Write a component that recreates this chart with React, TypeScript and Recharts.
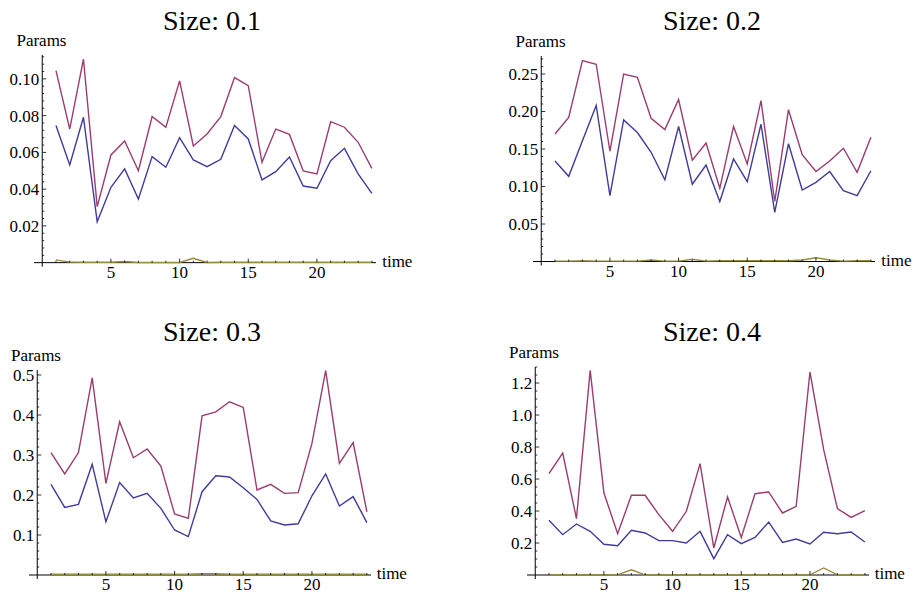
import React from 'react';
import { LineChart, Line, XAxis, YAxis, ReferenceLine } from 'recharts';

// ---------- data ----------
const times = [1, 2, 3, 4, 5, 6, 7, 8, 9, 10, 11, 12, 13, 14, 15, 16, 17, 18, 19, 20, 21, 22, 23, 24];
const xMajorTicks = [5, 10, 15, 20];

// Size 0.1
const blue1 = [0.0746, 0.0532, 0.0791, 0.0223, 0.041, 0.051, 0.0346, 0.0577, 0.0519, 0.068, 0.0559, 0.0522, 0.0562, 0.0746, 0.0673, 0.045, 0.0495, 0.0575, 0.0417, 0.0405, 0.0555, 0.0622, 0.0483, 0.0377];
const purple1 = [0.1045, 0.0727, 0.1107, 0.0305, 0.0586, 0.0662, 0.05, 0.0795, 0.0737, 0.0989, 0.0635, 0.07, 0.0795, 0.1007, 0.0963, 0.0546, 0.0727, 0.0698, 0.0499, 0.0483, 0.0767, 0.0737, 0.0655, 0.0513];
const olive1 = [0.0015, 0.0003, 0.0002, 0.0002, 0.0002, 0.0006, 0.0001, 0.0001, 0.0001, 0.0001, 0.0024, 0.0001, 0.0002, 0.0002, 0.0002, 0.0002, 0.0002, 0.0003, 0.0002, 0.0002, 0.0002, 0.0002, 0.0003, 0.0002];
const yMajor1 = [0.02, 0.04, 0.06, 0.08, 0.1];
const yLabels1 = ['0.02', '0.04', '0.06', '0.08', '0.10'];

// Size 0.2
const blue2 = [0.134, 0.1136, 0.161, 0.208, 0.0878, 0.1887, 0.172, 0.1456, 0.109, 0.18, 0.103, 0.1287, 0.08, 0.1367, 0.1064, 0.183, 0.0656, 0.157, 0.0953, 0.1056, 0.12, 0.0944, 0.0878, 0.121];
const purple2 = [0.17, 0.192, 0.268, 0.263, 0.147, 0.25, 0.2456, 0.191, 0.176, 0.216, 0.135, 0.158, 0.0976, 0.18, 0.13, 0.2144, 0.08, 0.2024, 0.1424, 0.12, 0.134, 0.151, 0.119, 0.1656];
const olive2 = [0.0005, 0.0005, 0.001, 0.0005, 0.0005, 0.0005, 0.0005, 0.002, 0.0005, 0.0005, 0.003, 0.0005, 0.001, 0.001, 0.001, 0.001, 0.001, 0.001, 0.002, 0.005, 0.002, 0.0005, 0.001, 0.001];
const yMajor2 = [0.05, 0.1, 0.15, 0.2, 0.25];
const yLabels2 = ['0.05', '0.10', '0.15', '0.20', '0.25'];

// Size 0.3
const blue3 = [0.2267, 0.169, 0.1767, 0.2767, 0.133, 0.231, 0.1925, 0.204, 0.1667, 0.1125, 0.096, 0.2083, 0.248, 0.245, 0.218, 0.189, 0.135, 0.125, 0.128, 0.198, 0.2525, 0.1725, 0.196, 0.131];
const purple3 = [0.306, 0.2525, 0.306, 0.493, 0.229, 0.383, 0.293, 0.315, 0.2725, 0.1525, 0.1417, 0.398, 0.408, 0.433, 0.419, 0.2125, 0.2267, 0.204, 0.206, 0.329, 0.511, 0.279, 0.331, 0.158];
const olive3 = [0.002, 0.002, 0.002, 0.002, 0.002, 0.002, 0.002, 0.002, 0.002, 0.002, 0.002, 0.003, 0.003, 0.002, 0.002, 0.002, 0.002, 0.002, 0.002, 0.002, 0.002, 0.002, 0.002, 0.002];
const yMajor3 = [0.1, 0.2, 0.3, 0.4, 0.5];
const yLabels3 = ['0.1', '0.2', '0.3', '0.4', '0.5'];

// Size 0.4
const blue4 = [0.342, 0.252, 0.319, 0.273, 0.192, 0.183, 0.279, 0.2625, 0.2146, 0.2146, 0.2, 0.273, 0.102, 0.252, 0.196, 0.235, 0.331, 0.204, 0.225, 0.194, 0.267, 0.258, 0.269, 0.206];
const purple4 = [0.633, 0.7625, 0.352, 1.279, 0.5125, 0.258, 0.498, 0.498, 0.377, 0.273, 0.398, 0.696, 0.169, 0.4875, 0.235, 0.508, 0.519, 0.3875, 0.429, 1.269, 0.783, 0.4146, 0.36, 0.402];
const olive4 = [0.001, 0.001, 0.001, 0.001, 0.001, 0.001, 0.033, 0.001, 0.001, 0.001, 0.001, 0.001, 0.001, 0.001, 0.001, 0.001, 0.001, 0.001, 0.001, 0.001, 0.044, 0.001, 0.001, 0.001];
const yMajor4 = [0.2, 0.4, 0.6, 0.8, 1.0, 1.2];
const yLabels4 = ['0.2', '0.4', '0.6', '0.8', '1.0', '1.2'];

const titles = ['Size: 0.1', 'Size: 0.2', 'Size: 0.3', 'Size: 0.4'];

// ---------- styling ----------
const FONT = 'Liberation Serif';
const BLUE = '#3F3D99';
const PURPLE = '#993D71';
const OLIVE = '#998B3D';
const YW = 40;
const MT = 5;
const MR = 50;
const XH = 25;
const LABEL_SIZE = 17;

const minorTicks = (step: number, max: number) => {
  const out: number[] = [];
  for (let k = 1; k * step <= max + 1e-9; k++) out.push(Math.round(k * step * 1e6) / 1e6);
  return out;
};

type PanelCfg = {
  title: string;
  blue: number[];
  purple: number[];
  olive: number[];
  yMajor: number[];
  yLabels: string[];
  yMinorStep: number;
  yDomain: [number, number];
  xDomain: [number, number];
  plotLeft: number;
  plotTop: number;
  plotW: number;
  plotH: number;
  titleX: number;
  titleY: number;
};

const panels: PanelCfg[] = [
  { title: titles[0], blue: blue1, purple: purple1, olive: olive1, yMajor: yMajor1, yLabels: yLabels1, yMinorStep: 0.004, yDomain: [-0.0022, 0.113], xDomain: [-0.6, 24.3], plotLeft: 34.2, plotTop: 55, plotW: 342, plotH: 211.7, titleX: 212, titleY: 30 },
  { title: titles[1], blue: blue2, purple: purple2, olive: olive2, yMajor: yMajor2, yLabels: yLabels2, yMinorStep: 0.01, yDomain: [-0.0053, 0.274], xDomain: [-0.6, 24.3], plotLeft: 533.3, plotTop: 56, plotW: 342, plotH: 209.5, titleX: 712, titleY: 30 },
  { title: titles[2], blue: blue3, purple: purple3, olive: olive3, yMajor: yMajor3, yLabels: yLabels3, yMinorStep: 0.02, yDomain: [-0.01, 0.5125], xDomain: [-0.6, 24.3], plotLeft: 28.7, plotTop: 370.3, plotW: 342, plotH: 209, titleX: 212, titleY: 341 },
  { title: titles[3], blue: blue4, purple: purple4, olive: olive4, yMajor: yMajor4, yLabels: yLabels4, yMinorStep: 0.05, yDomain: [-0.025, 1.3], xDomain: [-0.6, 24.3], plotLeft: 526.7, plotTop: 367.3, plotW: 342, plotH: 212, titleX: 712, titleY: 341 },
];

const YTick = (props: any) => {
  const { x, y, payload, zeroDx, major, labels } = props;
  const v = payload.value;
  const idx = major.findIndex((m: number) => Math.abs(m - v) < 1e-7);
  const isMajor = idx >= 0;
  const ax = x + zeroDx;
  return (
    <g>
      <line x1={ax} x2={ax + (isMajor ? 4 : 2)} y1={y} y2={y} stroke="#000" strokeWidth={0.8} />
      {isMajor && (
        <text x={ax - 3} y={y} dy="0.35em" textAnchor="end" fontFamily={FONT} fontSize={LABEL_SIZE} fill="#000">
          {labels[idx]}
        </text>
      )}
    </g>
  );
};

const XTick = (props: any) => {
  const { x, y, payload, zeroDy } = props;
  const v = payload.value;
  const isMajor = xMajorTicks.indexOf(v) >= 0;
  const ay = y - zeroDy;
  return (
    <g>
      <line x1={x} x2={x} y1={ay} y2={ay - (isMajor ? 4 : 2)} stroke="#000" strokeWidth={0.8} />
      {isMajor && (
        <text x={x} y={ay + 15} textAnchor="middle" fontFamily={FONT} fontSize={LABEL_SIZE} fill="#000">
          {v}
        </text>
      )}
    </g>
  );
};

const Panel = ({ cfg }: { cfg: PanelCfg }) => {
  const data = times.map((t, i) => ({ t, blue: cfg.blue[i], purple: cfg.purple[i], olive: cfg.olive[i] }));
  const zeroDx = (cfg.plotW * (0 - cfg.xDomain[0])) / (cfg.xDomain[1] - cfg.xDomain[0]);
  const zeroDy = (cfg.plotH * (0 - cfg.yDomain[0])) / (cfg.yDomain[1] - cfg.yDomain[0]);
  const yTicks = Array.from(new Set([...minorTicks(cfg.yMinorStep, cfg.yDomain[1]), ...cfg.yMajor])).sort((a, b) => a - b);
  const W = YW + cfg.plotW + MR;
  const H = MT + cfg.plotH + XH;
  return (
    <div style={{ position: 'absolute', left: cfg.plotLeft - YW, top: cfg.plotTop - MT, width: W, height: H }}>
      <LineChart width={W} height={H} data={data} margin={{ top: MT, right: MR, bottom: 0, left: 0 }}>
        <XAxis
          dataKey="t"
          type="number"
          domain={cfg.xDomain}
          allowDataOverflow
          ticks={times}
          interval={0}
          axisLine={false}
          tickLine={false}
          tickSize={0}
          tickMargin={0}
          height={XH}
          tick={(p: any) => <XTick {...p} zeroDy={zeroDy} />}
        />
        <YAxis
          type="number"
          domain={cfg.yDomain}
          allowDataOverflow
          ticks={yTicks}
          interval={0}
          axisLine={false}
          tickLine={false}
          tickSize={0}
          tickMargin={0}
          width={YW}
          tick={(p: any) => <YTick {...p} zeroDx={zeroDx} major={cfg.yMajor} labels={cfg.yLabels} />}
        />
        <ReferenceLine x={0} stroke="#000" strokeWidth={1} />
        <ReferenceLine y={0} stroke="#000" strokeWidth={1} />
        <Line type="linear" dataKey="blue" stroke={BLUE} strokeWidth={1.4} dot={false} isAnimationActive={false} />
        <Line type="linear" dataKey="purple" stroke={PURPLE} strokeWidth={1.4} dot={false} isAnimationActive={false} />
        <Line type="linear" dataKey="olive" stroke={OLIVE} strokeWidth={1.4} dot={false} isAnimationActive={false} />
      </LineChart>
    </div>
  );
};

export default function App() {
  return (
    <div style={{ position: 'absolute', left: 0, top: 0, width: 916, height: 593, background: '#fff', overflow: 'hidden' }}>
      {panels.map((cfg, i) => (
        <Panel key={i} cfg={cfg} />
      ))}
      <svg width={916} height={593} style={{ position: 'absolute', left: 0, top: 0, pointerEvents: 'none' }}>
        {panels.map((cfg, i) => {
          const zeroDx = (cfg.plotW * (0 - cfg.xDomain[0])) / (cfg.xDomain[1] - cfg.xDomain[0]);
          const zeroDy = (cfg.plotH * (0 - cfg.yDomain[0])) / (cfg.yDomain[1] - cfg.yDomain[0]);
          const axisX = cfg.plotLeft + zeroDx;
          const axisY = cfg.plotTop + cfg.plotH - zeroDy;
          return (
            <g key={i}>
              <text x={cfg.titleX} y={cfg.titleY} textAnchor="middle" fontFamily={FONT} fontSize={28} fill="#000">
                {cfg.title}
              </text>
              <text x={axisX - 26} y={cfg.plotTop - 9.5} fontFamily={FONT} fontSize={LABEL_SIZE} fill="#000">
                Params
              </text>
              <text x={cfg.plotLeft + cfg.plotW + 6} y={axisY + 4} fontFamily={FONT} fontSize={LABEL_SIZE} fill="#000">
                time
              </text>
            </g>
          );
        })}
      </svg>
    </div>
  );
}
